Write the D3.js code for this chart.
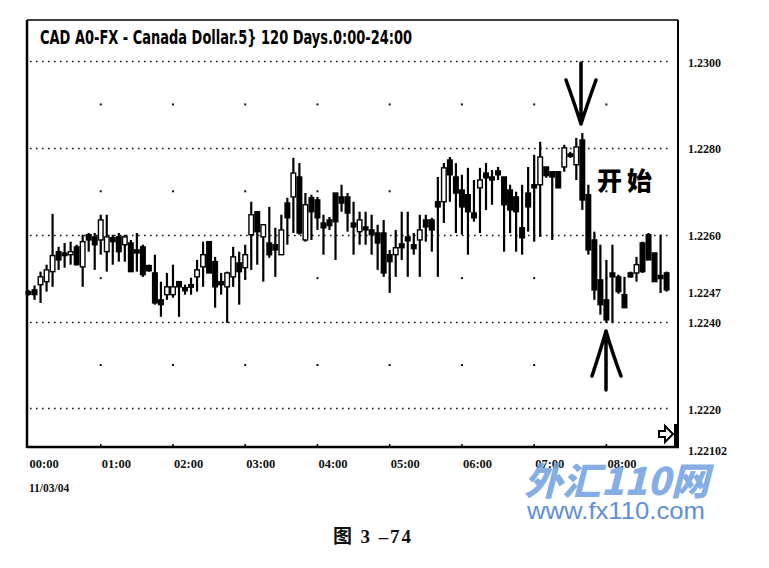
<!DOCTYPE html>
<html><head><meta charset="utf-8">
<script src="https://cdn.jsdelivr.net/npm/d3@7"></script>
<style>html,body{margin:0;padding:0;background:#fff;}svg{display:block;}</style>
</head><body>
<svg id="c" width="769" height="568"></svg>
<script>
// ---- data ----
const title = "CAD A0-FX - Canada Dollar.5} 120 Days.0:00-24:00";
const hourLabels = ["00:00","01:00","02:00","03:00","04:00","05:00","06:00","07:00","08:00"];
const dateLabel = "11/03/04";
const gridLevels = [1.2300, 1.2280, 1.2260, 1.2240, 1.2220];
const midLevels = [1.2290, 1.2270, 1.2250, 1.2230];
const axisLabels = ["1.2300","1.2280","1.2260","1.2247","1.2240","1.2220","1.22102"];
const open = [1.22469,1.22473,1.22485,1.22492,1.22515,1.22561,1.22558,1.22554,1.22572,1.22526,
1.22600,1.22595,1.22588,1.22561,1.22593,1.22595,1.22577,1.22581,1.22565,1.22572,
1.22529,1.22512,1.22450,1.22462,1.22462,1.22492,1.22478,1.22485,1.22503,1.22526,
1.22584,1.22538,1.22492,1.22480,1.22503,1.22535,1.22524,1.22600,1.22653,1.22595,
1.22581,1.22577,1.22554,1.22673,1.22687,1.22733,1.22588,1.22685,1.22680,1.22627,
1.22634,1.22696,1.22687,1.22687,1.22627,1.22607,1.22618,1.22611,1.22604,1.22604,
1.22554,1.22554,1.22579,1.22595,1.22577,1.22588,1.22634,1.22634,1.22676,1.22676,
1.22772,1.22733,1.22703,1.22692,1.22650,1.22708,1.22742,1.22733,1.22747,1.22733,
1.22703,1.22687,1.22616,1.22696,1.22715,1.22715,1.22756,1.22745,1.22745,1.22756,
1.22786,1.22761,1.22818,1.22692,1.22588,1.22496,1.22450,1.22512,1.22503,1.22462,
1.22512,1.22512,1.22581,1.22600,1.22558,1.22506,1.22512];
const high = [1.22473,1.22483,1.22515,1.22531,1.22648,1.22572,1.22581,1.22584,1.22577,1.22600,
1.22604,1.22604,1.22646,1.22646,1.22600,1.22604,1.22600,1.22588,1.22604,1.22577,
1.22531,1.22554,1.22492,1.22512,1.22531,1.22492,1.22485,1.22501,1.22542,1.22584,
1.22584,1.22549,1.22512,1.22515,1.22572,1.22561,1.22577,1.22676,1.22653,1.22623,
1.22664,1.22616,1.22646,1.22685,1.22777,1.22765,1.22696,1.22692,1.22687,1.22646,
1.22641,1.22696,1.22715,1.22696,1.22676,1.22653,1.22653,1.22646,1.22623,1.22634,
1.22565,1.22611,1.22653,1.22653,1.22604,1.22646,1.22646,1.22639,1.22733,1.22765,
1.22779,1.22765,1.22738,1.22754,1.22726,1.22754,1.22765,1.22749,1.22756,1.22733,
1.22715,1.22699,1.22715,1.22756,1.22784,1.22814,1.22756,1.22745,1.22745,1.22807,
1.22791,1.22823,1.22834,1.22715,1.22607,1.22577,1.22542,1.22577,1.22508,1.22503,
1.22515,1.22549,1.22584,1.22604,1.22558,1.22600,1.22515];
const low = [1.22460,1.22450,1.22443,1.22469,1.22480,1.22519,1.22524,1.22531,1.22529,1.22480,
1.22561,1.22519,1.22554,1.22515,1.22531,1.22538,1.22538,1.22515,1.22515,1.22503,
1.22515,1.22439,1.22411,1.22450,1.22455,1.22411,1.22462,1.22462,1.22469,1.22480,
1.22512,1.22432,1.22462,1.22397,1.22480,1.22439,1.22496,1.22519,1.22531,1.22492,
1.22547,1.22503,1.22554,1.22577,1.22604,1.22600,1.22584,1.22588,1.22611,1.22554,
1.22611,1.22542,1.22653,1.22607,1.22554,1.22577,1.22577,1.22554,1.22519,1.22503,
1.22466,1.22503,1.22542,1.22503,1.22554,1.22503,1.22584,1.22561,1.22503,1.22627,
1.22676,1.22604,1.22600,1.22554,1.22630,1.22604,1.22657,1.22669,1.22726,1.22561,
1.22604,1.22561,1.22554,1.22607,1.22584,1.22595,1.22731,1.22588,1.22708,1.22745,
1.22777,1.22726,1.22657,1.22554,1.22450,1.22416,1.22397,1.22397,1.22464,1.22432,
1.22501,1.22492,1.22512,1.22542,1.22492,1.22466,1.22469];
const close = [1.22464,1.22462,1.22503,1.22519,1.22552,1.22542,1.22552,1.22561,1.22531,1.22584,
1.22588,1.22577,1.22634,1.22595,1.22584,1.22561,1.22595,1.22515,1.22558,1.22508,
1.22517,1.22443,1.22439,1.22480,1.22480,1.22480,1.22471,1.22480,1.22519,1.22554,
1.22512,1.22480,1.22485,1.22512,1.22549,1.22515,1.22554,1.22646,1.22607,1.22623,
1.22554,1.22565,1.22611,1.22639,1.22742,1.22604,1.22669,1.22653,1.22639,1.22616,
1.22621,1.22630,1.22673,1.22650,1.22618,1.22634,1.22611,1.22600,1.22581,1.22512,
1.22538,1.22570,1.22570,1.22586,1.22568,1.22611,1.22618,1.22611,1.22664,1.22754,
1.22738,1.22696,1.22664,1.22653,1.22639,1.22726,1.22731,1.22726,1.22738,1.22669,
1.22657,1.22653,1.22593,1.22664,1.22708,1.22779,1.22736,1.22733,1.22708,1.22800,
1.22782,1.22802,1.22680,1.22565,1.22473,1.22439,1.22404,1.22503,1.22469,1.22432,
1.22503,1.22531,1.22515,1.22542,1.22492,1.22499,1.22473];
const noteText = "开始";
const caption = "图 3 –74";
const watermark1 = "外汇110网";
const watermark2 = "www.fx110.com";

// ---- drawing ----
const svg = d3.select("#c");
const n = open.length;
const frame = {l: 27, r: 678, t: 20, b: 447};
const x = d3.scaleLinear().domain([0, 106]).range([28.5, 666.6]);
const y = d3.scaleLinear().domain([1.22102, 1.2300]).range([451, 61]);

// dense dotted gridlines
svg.append("g").selectAll("line").data(gridLevels).join("line")
  .attr("x1", 30).attr("x2", 672)
  .attr("y1", d => Math.round(y(d)) + 0.5).attr("y2", d => Math.round(y(d)) + 0.5)
  .attr("stroke", "#111").attr("stroke-width", 1.6)
  .attr("stroke-dasharray", "1.6 4.4");

// sparse dots on mid-levels at each hour
const hourIdx = d3.range(0, 9).map(k => k * 12);
const dots = [];
midLevels.forEach(l => hourIdx.forEach(i => { if (i > 0) dots.push([i, l]); }));
svg.append("g").selectAll("rect").data(dots).join("rect")
  .attr("x", d => x(d[0]) - 1).attr("y", d => y(d[1]) - 1)
  .attr("width", 2).attr("height", 2).attr("fill", "#111");

// candles
const cg = svg.append("g");
const idx = d3.range(n);
cg.selectAll("line.w").data(idx).join("line")
  .attr("x1", i => x(i)).attr("x2", i => x(i))
  .attr("y1", i => y(high[i])).attr("y2", i => y(low[i]))
  .attr("stroke", "#000").attr("stroke-width", 2.2);
const bw = 4.6;
cg.selectAll("rect.b").data(idx).join("rect")
  .attr("x", i => x(i) - bw / 2)
  .attr("y", i => y(Math.max(open[i], close[i])))
  .attr("width", bw)
  .attr("height", i => Math.max(2.5, Math.abs(y(open[i]) - y(close[i]))))
  .attr("fill", i => close[i] > open[i] ? "#fff" : "#000")
  .attr("stroke", "#000").attr("stroke-width", 1.4);

// frame
svg.append("line").attr("x1", frame.l).attr("x2", frame.r).attr("y1", frame.t).attr("y2", frame.t)
  .attr("stroke", "#000").attr("stroke-width", 1.5);
svg.append("line").attr("x1", frame.l).attr("x2", frame.l).attr("y1", frame.t).attr("y2", frame.b + 1)
  .attr("stroke", "#000").attr("stroke-width", 2.5);
svg.append("line").attr("x1", frame.r).attr("x2", frame.r).attr("y1", frame.t).attr("y2", frame.b + 1)
  .attr("stroke", "#000").attr("stroke-width", 2);
svg.append("line").attr("x1", frame.l).attr("x2", frame.r + 1).attr("y1", frame.b).attr("y2", frame.b)
  .attr("stroke", "#000").attr("stroke-width", 2.5);
svg.append("g").selectAll("line").data(hourIdx.slice(1)).join("line")
  .attr("x1", i => x(i)).attr("x2", i => x(i))
  .attr("y1", frame.b - 3).attr("y2", frame.b)
  .attr("stroke", "#000").attr("stroke-width", 1.5);

// title
svg.append("text").attr("x", 40).attr("y", 44)
  .attr("font-family", "'Liberation Sans Narrow','DejaVu Sans Condensed',sans-serif")
  .attr("font-weight", "bold").attr("font-size", 19)
  .attr("textLength", 372).attr("lengthAdjust", "spacingAndGlyphs")
  .text(title);

// right axis labels
const axisVals = axisLabels.map(s => +s);
svg.append("g").selectAll("text").data(axisLabels).join("text")
  .attr("x", 688).attr("y", (d, i) => y(axisVals[i]) + (i === axisLabels.length - 1 ? 3.5 : 5.5))
  .attr("font-family", "'Liberation Serif',serif").attr("font-weight", "bold")
  .attr("font-size", 12).attr("fill", "#111")
  .text(d => d);

// bottom hour labels
svg.append("g").selectAll("text").data(hourLabels).join("text")
  .attr("x", (d, k) => x(k * 12) + 1).attr("y", 468)
  .attr("font-family", "'Liberation Serif',serif").attr("font-weight", "bold")
  .attr("font-size", 12.5).attr("fill", "#111")
  .text(d => d);
svg.append("text").attr("x", 29).attr("y", 492)
  .attr("font-family", "'Liberation Serif',serif").attr("font-weight", "bold")
  .attr("font-size", 11.5).attr("fill", "#111").text(dateLabel);

// bottom-right scroll icon
svg.append("path")
  .attr("d", "M659,431 L665,431 L665,426 L673,434 L665,442 L665,437 L659,437 Z")
  .attr("fill", "#fff").attr("stroke", "#000").attr("stroke-width", 2);
svg.append("rect").attr("x", 674).attr("y", 424).attr("width", 4).attr("height", 22).attr("fill", "#000");

// annotations: arrows and note
const ag = svg.append("g").attr("stroke", "#000").attr("stroke-width", 3.5)
  .attr("stroke-linecap", "round").attr("fill", "none");
ag.append("path").attr("d", "M581,63 L581,124 M566,80 Q575,105 581,124 M596,80 Q587,105 581,124");
ag.append("path").attr("d", "M606,390 L606,331 M592,376 Q600,352 606,331 M621,376 Q612,352 606,331");
svg.append("text").attr("x", 597).attr("y", 190)
  .attr("font-family", "'Noto Sans CJK SC',sans-serif").attr("font-weight", 900)
  .attr("font-size", 25).attr("letter-spacing", 5).attr("fill", "#000")
  .text(noteText);

// watermark
svg.append("text").attr("x", 524).attr("y", 495)
  .attr("font-family", "'Noto Sans CJK SC',sans-serif").attr("font-weight", 900)
  .attr("font-style", "italic").attr("font-size", 38).attr("fill", "#6f9fe0")
  .attr("fill-opacity", 0.85)
  .attr("textLength", 185).attr("lengthAdjust", "spacingAndGlyphs")
  .text(watermark1);
svg.append("text").attr("x", 527).attr("y", 519)
  .attr("font-family", "'Liberation Sans',Arial,sans-serif")
  .attr("font-size", 24).attr("fill", "#5f8fd8")
  .attr("textLength", 178).attr("lengthAdjust", "spacingAndGlyphs")
  .text(watermark2);

// caption
svg.append("text").attr("x", 333).attr("y", 543)
  .attr("font-family", "'Liberation Serif','Noto Sans CJK SC',serif").attr("font-weight", "bold")
  .attr("font-size", 19).attr("fill", "#111")
  .attr("textLength", 78).attr("lengthAdjust", "spacing")
  .text(caption);
</script>
</body></html>
